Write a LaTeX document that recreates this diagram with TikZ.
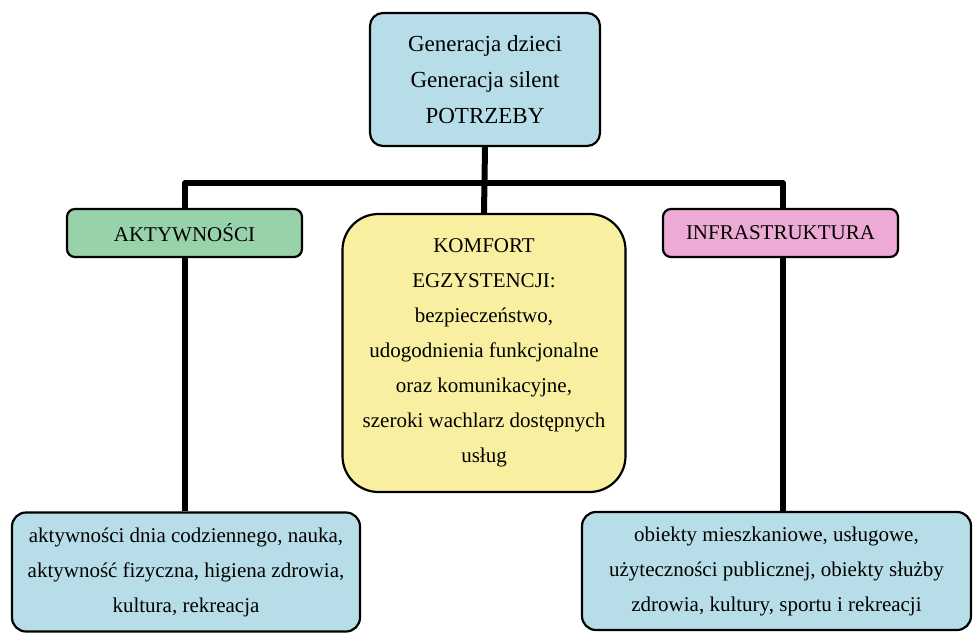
\documentclass[tikz,border=0pt]{standalone}
\usepackage{fontspec}
\setmainfont{Liberation Serif}
\definecolor{lblue}{RGB}{183,222,232}
\definecolor{mgreen}{RGB}{152,210,170}
\definecolor{lpink}{RGB}{236,170,212}
\definecolor{lyellow}{RGB}{248,240,160}
\tikzset{
  box/.style={draw=black, line width=2.2pt, align=center, inner sep=0pt,
    font=\fontsize{21}{35}\selectfont, text=black},
  conn/.style={draw=black, line width=6pt, line join=round}
}
\begin{document}
\begin{tikzpicture}[x=1pt,y=-1pt]
\useasboundingbox (0,0) rectangle (973,634);
\node[box, fill=lblue, rounded corners=13pt, minimum width=230pt, minimum height=133pt,
  font=\fontsize{23}{36}\selectfont] (top) at (485,79.5)
  {Generacja dzieci\\Generacja silent\\POTRZEBY};
\node[box, fill=mgreen, rounded corners=8pt, minimum width=235pt, minimum height=48pt] (akt) at (184.5,233) {AKTYWNOŚCI};
\node[box, fill=lyellow, rounded corners=36pt, minimum width=283pt, minimum height=278pt] (mid) at (484,353)
  {KOMFORT\\EGZYSTENCJI:\\bezpieczeństwo,\\udogodnienia funkcjonalne\\oraz komunikacyjne,\\szeroki wachlarz dostępnych\\usług};
\node[box, fill=lpink, rounded corners=8pt, minimum width=235pt, minimum height=48pt] (inf) at (780.5,233) {INFRASTRUKTURA};
\node[box, fill=lblue, rounded corners=14pt, minimum width=348pt, minimum height=119pt] (botL) at (186,572)
  {aktywności dnia codziennego, nauka,\\aktywność fizyczna, higiena zdrowia,\\kultura, rekreacja};
\node[box, fill=lblue, rounded corners=14pt, minimum width=389pt, minimum height=118pt] (botR) at (776.5,571)
  {obiekty mieszkaniowe, usługowe,\\użyteczności publicznej, obiekty służby\\zdrowia, kultury, sportu i rekreacji};
\coordinate (barL) at (185,183);
\coordinate (barR) at (783,183);
\draw[conn] (top.south) -- (mid.north);
\draw[conn] (185,0 |- akt.north) -- (barL) -- (barR) -- (783,0 |- inf.north);
\draw[conn] (185,0 |- akt.south) -- (185,0 |- botL.north);
\draw[conn] (783,0 |- inf.south) -- (783,0 |- botR.north);
\end{tikzpicture}
\end{document}
